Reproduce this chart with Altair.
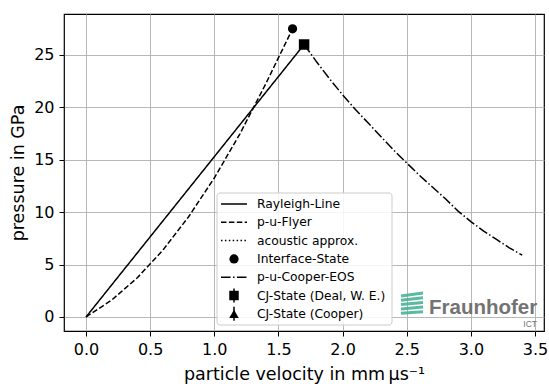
import altair as alt
import pandas as pd

# ---- data ----
rayleigh_u = [0.0, 1.7]
rayleigh_p = [0.0, 26.0]

flyer_u = [0.0, 0.2, 0.4, 0.6, 0.8, 1.0, 1.2, 1.4, 1.61]
flyer_p = [0.0, 1.61, 3.74, 6.39, 9.57, 13.26, 17.48, 22.22, 27.5]

cooper_u = [1.7, 1.8, 1.9, 2.0, 2.1, 2.2, 2.3, 2.4, 2.5, 2.6, 2.7, 2.8, 2.9, 3.0, 3.1, 3.2, 3.3, 3.4]
cooper_p = [26.0, 24.3, 22.7, 21.2, 19.8, 18.5, 17.2, 15.9, 14.7, 13.5, 12.4, 11.3, 10.1, 9.1, 8.2, 7.4, 6.6, 5.9]

interface_u = [1.61]
interface_p = [27.5]

cj_deal_u = [1.7]
cj_deal_p = [26.0]

legend_labels = ["Rayleigh-Line", "p-u-Flyer", "acoustic approx.", "Interface-State",
                 "p-u-Cooper-EOS", "CJ-State (Deal, W. E.)", "CJ-State (Cooper)"]

x_ticks = [0.0, 0.5, 1.0, 1.5, 2.0, 2.5, 3.0, 3.5]
y_ticks = [0, 5, 10, 15, 20, 25]

FONT = "DejaVu Sans"
W, H = 480, 317
PADL, PADT = 64, 14

xs = alt.Scale(domain=[-0.1715, 3.570], nice=False, zero=False)
ys = alt.Scale(domain=[-1.336, 28.91], nice=False, zero=False)

xaxis = alt.Axis(values=x_ticks, format=".1f", title="particle velocity in mm\u2009µs⁻¹",
                 grid=True)
yaxis = alt.Axis(values=y_ticks, format="d", title="pressure in GPa", grid=True)


def line_layer(u, p, dash):
    df = pd.DataFrame({"u": u, "p": p, "o": list(range(len(u)))})
    return alt.Chart(df).mark_line(color="black", strokeWidth=1.5, strokeDash=dash).encode(
        x=alt.X("u:Q", scale=xs, axis=xaxis),
        y=alt.Y("p:Q", scale=ys, axis=yaxis),
        order="o:Q",
    )


def point_layer(u, p, shape, size):
    df = pd.DataFrame({"u": u, "p": p})
    return alt.Chart(df).mark_point(filled=True, color="black", opacity=1, shape=shape, size=size).encode(
        x=alt.X("u:Q", scale=xs, axis=xaxis),
        y=alt.Y("p:Q", scale=ys, axis=yaxis),
    )


rayleigh = line_layer(rayleigh_u, rayleigh_p, [1, 0])
flyer = line_layer(flyer_u, flyer_p, [5.5, 2.4])
cooper = line_layer(cooper_u, cooper_p, [9.6, 2.4, 1.5, 2.4])
interface = point_layer(interface_u, interface_p, "circle", 85)
cj_deal = point_layer(cj_deal_u, cj_deal_p, "square", 110)

one = pd.DataFrame({"a": [0]})

# ---- legend (drawn manually) ----
lx0, lx1, ly0, ly1 = 217 - PADL, 392 - PADL, 193 - PADT, 325 - PADT
legend_box = alt.Chart(one).mark_rect(fill="white", fillOpacity=0.85, stroke="#cccccc",
                                      strokeWidth=1, cornerRadius=3).encode(
    x=alt.value(lx0), x2=alt.value(lx1), y=alt.value(ly0), y2=alt.value(ly1))

row_y = [204 + i * 18.3 - PADT for i in range(len(legend_labels))]
legend_layers = [legend_box]
sym_x0, sym_x1, sym_xc = 221 - PADL, 247 - PADL, 234 - PADL
dashes = {0: [1, 0], 1: [5.5, 2.4], 2: [1.5, 2.4], 4: [9.6, 2.4, 1.5, 2.4]}
for i, lab in enumerate(legend_labels):
    yv = row_y[i]
    if i in dashes:
        legend_layers.append(alt.Chart(one).mark_rule(color="black", strokeWidth=1.5,
                                                      strokeDash=dashes[i]).encode(
            x=alt.value(sym_x0), x2=alt.value(sym_x1), y=alt.value(yv)))
    else:
        shape = {3: "circle", 5: "square", 6: "triangle-up"}[i]
        size = {3: 85, 5: 90, 6: 90}[i]
        if i in (5, 6):
            legend_layers.append(alt.Chart(one).mark_rule(color="black", strokeWidth=1.5).encode(
                x=alt.value(sym_xc), y=alt.value(yv - 7), y2=alt.value(yv + 7)))
        legend_layers.append(alt.Chart(one).mark_point(filled=True, color="black", opacity=1,
                                                       shape=shape, size=size).encode(
            x=alt.value(sym_xc), y=alt.value(yv)))
    legend_layers.append(alt.Chart(pd.DataFrame({"t": [lab]})).mark_text(
        align="left", baseline="middle", font=FONT, fontSize=12.3, color="black").encode(
        x=alt.value(257 - PADL), y=alt.value(yv), text="t:N"))

# ---- Fraunhofer logo ----
logo_layers = []
green = "#3fae90"
for k in range(5):
    y_a = 294 + k * 4.3 - PADT
    logo_layers.append(alt.Chart(one).mark_rule(color=green, strokeWidth=3, opacity=0.85).encode(
        x=alt.value(401 - PADL), x2=alt.value(423 - PADL),
        y=alt.value(y_a + 2), y2=alt.value(y_a - 1 + k * 0.4)))
logo_layers.append(alt.Chart(pd.DataFrame({"t": ["Fraunhofer"]})).mark_text(
    align="left", baseline="alphabetic", font="Liberation Sans", fontWeight="bold",
    fontSize=20.5, color="#737373").encode(
    x=alt.value(429 - PADL), y=alt.value(314 - PADT), text="t:N"))
logo_layers.append(alt.Chart(pd.DataFrame({"t": ["ICT"]})).mark_text(
    align="right", baseline="alphabetic", font="Liberation Sans",
    fontSize=8.5, color="#737373").encode(
    x=alt.value(537 - PADL), y=alt.value(327 - PADT), text="t:N"))

chart = alt.layer(rayleigh, flyer, cooper, interface, cj_deal, *legend_layers, *logo_layers).properties(
    width=W, height=H,
    autosize=alt.AutoSizeParams(type="none"),
    padding={"left": PADL, "top": PADT, "right": 549 - PADL - W, "bottom": 384 - PADT - H},
    background="white",
).configure_view(stroke="black", strokeWidth=1.2).configure_axis(
    domain=False,
    gridColor="#b0b0b0", gridWidth=0.9, gridOpacity=1,
    tickColor="black", tickSize=5, tickWidth=1,
    labelFont=FONT, labelFontSize=16, labelColor="black", labelPadding=5,
    titleFont=FONT, titleFontSize=17.5, titleFontWeight="normal", titleColor="black",
).configure_axisX(titlePadding=8).configure_axisY(titlePadding=6)

chart.save("out.html", embed_options={"renderer": "svg", "actions": False})
